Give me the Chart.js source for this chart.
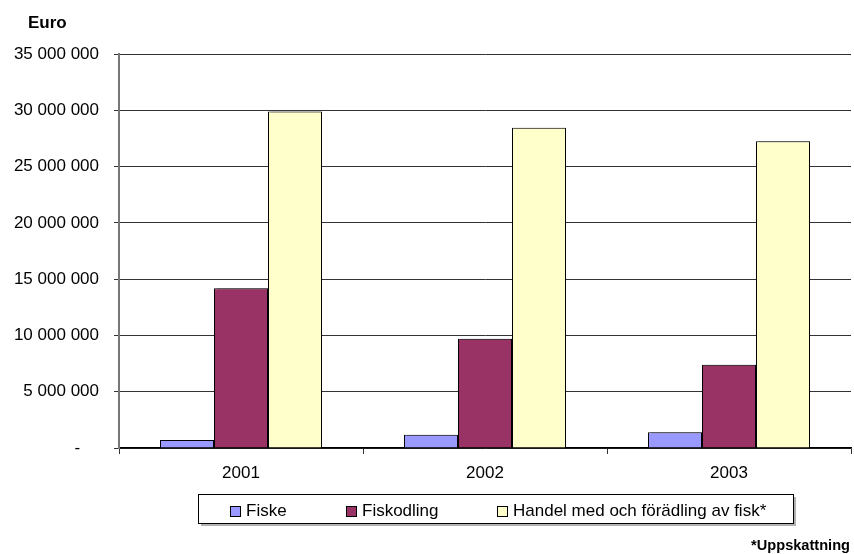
<!DOCTYPE html>
<html>
<head>
<meta charset="utf-8">
<script src="https://cdn.jsdelivr.net/npm/chart.js@4"></script>
<style>
  html, body { margin: 0; padding: 0; background: #fff; }
  #wrap { width: 854px; height: 554px; }
</style>
</head>
<body>
<div id="wrap"><canvas id="fishChart" width="854" height="554"></canvas></div>
<script>
var years = ["2001", "2002", "2003"];
var fiske = [700000, 1170000, 1390000];
var fiskodling = [14200000, 9700000, 7400000];
var handel = [29900000, 28450000, 27250000];
var seriesNames = ["Fiske", "Fiskodling", "Handel med och förädling av fisk*"];
var seriesColors = ["#9999FF", "#993366", "#FFFFCC"];
var yTicks = [0, 5000000, 10000000, 15000000, 20000000, 25000000, 30000000, 35000000];

var FONT = "'Liberation Sans', Arial, sans-serif";

function fmt(v) {
    if (v === 0) return "-    ";
    return String(v).replace(/\B(?=(\d{3})+(?!\d))/g, " ");
}

// gray drop shadow on the bars, like the old Excel look
var barShadow = {
    id: "barShadow",
    beforeDatasetsDraw: function (chart) {
        var ctx = chart.ctx;
        ctx.save();
        ctx.shadowColor = "rgba(0,0,0,0.3)";
        ctx.shadowOffsetX = 3;
        ctx.shadowOffsetY = 0;
        ctx.shadowBlur = 0;
    },
    afterDatasetsDraw: function (chart) {
        chart.ctx.restore();
    }
};

// boxed legend + axis title + footnote
var extras = {
    id: "extras",
    afterDraw: function (chart) {
        var ctx = chart.ctx;
        ctx.save();

        ctx.fillStyle = "#000";
        ctx.font = "bold 17px " + FONT;
        ctx.textAlign = "left";
        ctx.textBaseline = "alphabetic";
        ctx.fillText("Euro", 28, 28);

        ctx.font = "bold 14.6px " + FONT;
        ctx.textAlign = "right";
        ctx.fillText("*Uppskattning", 850, 550);

        // legend box
        var bx = 198, by = 494, bw = 595, bh = 29;
        ctx.fillStyle = "rgba(0,0,0,0.3)";
        ctx.fillRect(bx + 3, by + 3, bw, bh);
        ctx.fillStyle = "#fff";
        ctx.fillRect(bx, by, bw, bh);
        ctx.strokeStyle = "#000";
        ctx.lineWidth = 1;
        ctx.strokeRect(bx + 0.5, by + 0.5, bw, bh);

        var sqX = [230, 346, 497];
        ctx.font = "17px " + FONT;
        ctx.textAlign = "left";
        ctx.textBaseline = "middle";
        chart.data.datasets.forEach(function (ds, i) {
            ctx.fillStyle = ds.backgroundColor;
            ctx.fillRect(sqX[i], 506, 10, 10);
            ctx.strokeStyle = "#000";
            ctx.strokeRect(sqX[i] + 0.5, 506.5, 10, 10);
            ctx.fillStyle = "#000";
            ctx.fillText(ds.label, sqX[i] + 16, 511.5);
        });
        ctx.restore();
    }
};

var ctx = document.getElementById("fishChart").getContext("2d");
new Chart(ctx, {
    type: "bar",
    data: {
        labels: years,
        datasets: [
            { label: seriesNames[0], data: fiske, backgroundColor: seriesColors[0] },
            { label: seriesNames[1], data: fiskodling, backgroundColor: seriesColors[1] },
            { label: seriesNames[2], data: handel, backgroundColor: seriesColors[2] }
        ].map(function (d) {
            d.borderColor = "#000";
            d.borderWidth = 1;
            d.borderSkipped = "bottom";
            d.categoryPercentage = 0.664;
            d.barPercentage = 1;
            return d;
        })
    },
    options: {
        responsive: false,
        animation: false,
        layout: { padding: { top: 54, right: 3, left: 0, bottom: 0 } },
        plugins: {
            legend: { display: false },
            tooltip: { enabled: false }
        },
        scales: {
            x: {
                afterFit: function (s) { s.height = 106; },
                grid: {
                    drawOnChartArea: false,
                    offset: true,
                    tickLength: 6,
                    color: "#333"
                },
                border: { color: "#000", width: 1.5 },
                ticks: {
                    padding: 9,
                    color: "#000",
                    font: { family: FONT, size: 17 }
                }
            },
            y: {
                min: 0,
                max: 35000000,
                afterFit: function (s) { s.width = 119; },
                afterBuildTicks: function (s) {
                    s.ticks = yTicks.map(function (v) { return { value: v }; });
                },
                grid: { color: "#333", tickLength: 5 },
                border: { color: "#777", width: 2 },
                ticks: {
                    padding: 15,
                    color: "#000",
                    font: { family: FONT, size: 17 },
                    callback: function (v) { return fmt(v); }
                }
            }
        }
    },
    plugins: [barShadow, extras]
});
</script>
</body>
</html>
